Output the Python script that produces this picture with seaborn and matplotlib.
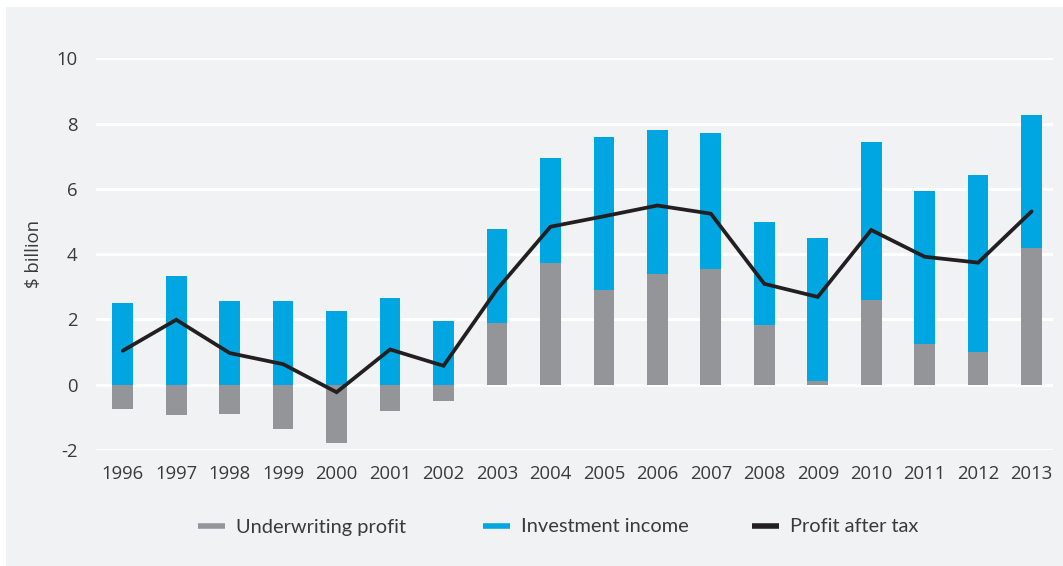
import numpy as np
import pandas as pd
import matplotlib
matplotlib.use("Agg")
import matplotlib.pyplot as plt
from matplotlib.lines import Line2D
from matplotlib.patches import Rectangle
import seaborn as sns

years = ["1996", "1997", "1998", "1999", "2000", "2001", "2002", "2003", "2004",
         "2005", "2006", "2007", "2008", "2009", "2010", "2011", "2012", "2013"]
underwriting = [-0.74, -0.93, -0.90, -1.35, -1.78, -0.80, -0.50, 1.89, 3.72,
                2.89, 3.38, 3.53, 1.82, 0.12, 2.59, 1.24, 1.00, 4.19]
investment = [2.49, 3.32, 2.56, 2.56, 2.25, 2.65, 1.95, 2.87, 3.24,
              4.71, 4.43, 4.19, 3.18, 4.36, 4.85, 4.68, 5.41, 4.08]
profit_after_tax = [1.04, 1.99, 0.97, 0.63, -0.23, 1.08, 0.58, 2.92, 4.84,
                    5.16, 5.49, 5.24, 3.09, 2.69, 4.74, 3.92, 3.74, 5.31]
y_ticks = [-2, 0, 2, 4, 6, 8, 10]
series_names = ["Underwriting profit", "Investment income", "Profit after tax"]

GREY = "#939598"
BLUE = "#00a6e1"
BLACK = "#231f20"
BG = "#f1f2f4"
TEXT = "#3a3a3a"

df = pd.DataFrame({"year": years, "uw": underwriting, "inv": investment,
                   "pat": profit_after_tax})
df["inv_base"] = df["uw"].clip(lower=0)
df["pos"] = np.arange(len(df))

sns.set_theme(style="white")
plt.rcParams["font.family"] = ["Open Sans", "DejaVu Sans"]

W, H = 1063, 566
fig = plt.figure(figsize=(W / 100, H / 100), dpi=100)
fig.patch.set_facecolor("white")
fig.patches.append(Rectangle((6 / W, 0), 1 - 6 / W, 1 - 7 / H, transform=fig.transFigure,
                             facecolor=BG, edgecolor="none", zorder=-10))

ax = fig.add_axes([96 / W, (H - 450) / H, (1053 - 96) / W, (450 - 58.3) / H])
ax.set_facecolor("none")

bw = 0.387
sns.barplot(data=df, x="year", y="uw", color=GREY, width=bw, saturation=1,
            linewidth=0, edgecolor="none", ax=ax, zorder=2)
sns.barplot(data=df, x="year", y="inv", color=BLUE, width=bw, saturation=1,
            linewidth=0, edgecolor="none",
            bottom=df["inv_base"].values, ax=ax, zorder=2)
sns.lineplot(data=df, x="pos", y="pat", color=BLACK, linewidth=2.7, ax=ax,
             zorder=3, solid_joinstyle="miter")

ax.set_xlim(-0.50, 17.40)
ax.set_ylim(-2, 10)
ax.set_yticks(y_ticks)
ax.set_yticklabels([str(t) if t >= 0 else "-" + str(-t) for t in y_ticks])
ax.set_xticks(range(len(years)))
ax.set_xticklabels(years)
ax.grid(axis="y", color="white", linewidth=2.2, zorder=0)
ax.set_axisbelow(True)
for s in ax.spines.values():
    s.set_visible(False)
ax.tick_params(axis="both", length=0, colors=TEXT, labelsize=13.3)
ax.tick_params(axis="y", pad=13.5)
ax.tick_params(axis="x", pad=10.5)
ax.set_xlabel("")
ax.set_ylabel("$ billion", color=TEXT, fontsize=13.3)
ax.yaxis.set_label_coords(-0.055, 0.5)

handles = [Line2D([], [], color=GREY, lw=4, solid_capstyle="butt"),
           Line2D([], [], color=BLUE, lw=4, solid_capstyle="butt"),
           Line2D([], [], color=BLACK, lw=4, solid_capstyle="butt")]
x_starts = [198, 483, 752]
for h, name, xs in zip(handles, series_names, x_starts):
    leg = fig.legend([h], [name], loc="center left",
                     bbox_to_anchor=(xs / W, 1 - 527 / H), frameon=False,
                     borderpad=0, borderaxespad=0,
                     handlelength=1.35, handletextpad=0.55,
                     prop={"family": "Lato", "size": 14.4})
    for t in leg.get_texts():
        t.set_color(TEXT)

fig.savefig("out.png", dpi=100, facecolor=fig.get_facecolor())
